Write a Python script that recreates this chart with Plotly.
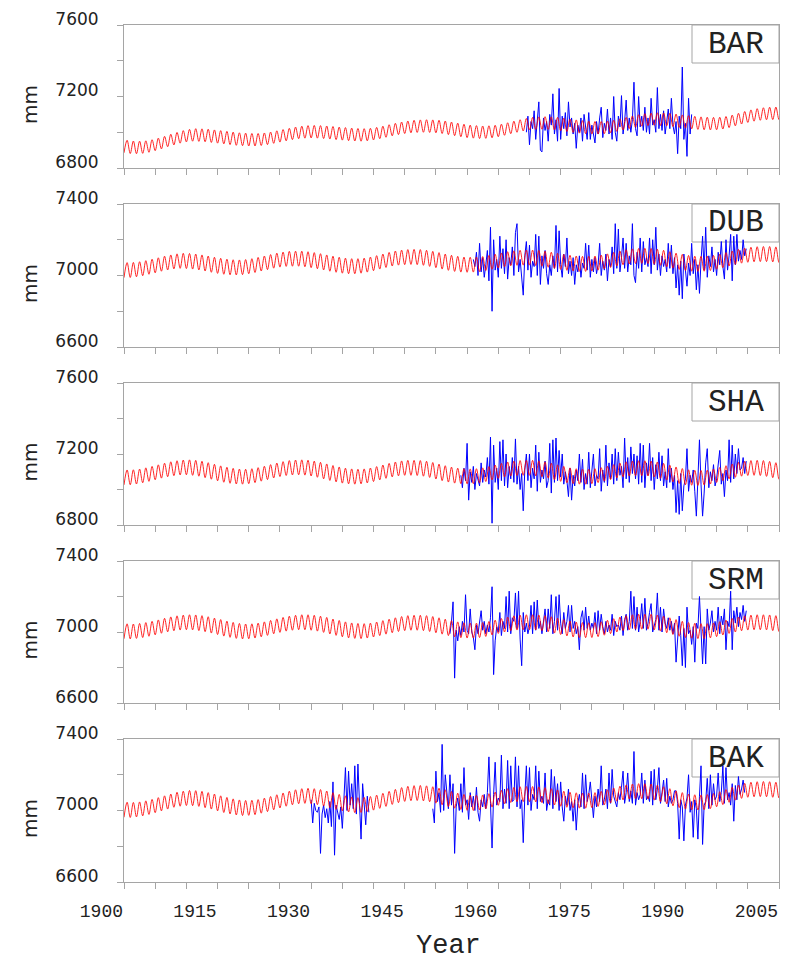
import numpy as np
import plotly.graph_objects as go

# ---------------- data ----------------
stations = ["BAR", "DUB", "SHA", "SRM", "BAK"]
y_ranges = [(6800, 7600), (6600, 7400), (6800, 7600), (6600, 7400), (6600, 7400)]
y_labels = [[6800, 7200, 7600], [6600, 7000, 7400], [6800, 7200, 7600],
            [6600, 7000, 7400], [6600, 7000, 7400]]
x_ticks = [1900, 1915, 1930, 1945, 1960, 1975, 1990, 2005]

# red model curve: slow mean level per year (1900..2006) and annual half-range (mm)
red_first_year = 1900
red_half_range = [35, 42, 42, 42, 42]

bar_red_mid = [6920, 6916, 6915, 6917, 6923, 6932, 6942, 6954, 6964, 6974,
               6981, 6985, 6984, 6982, 6978, 6974, 6970, 6966, 6962, 6960,
               6958, 6958, 6961, 6966, 6973, 6980, 6987, 6994, 6999, 7002,
               7003, 7002, 7000, 6997, 6994, 6991, 6988, 6986, 6985, 6987,
               6992, 6999, 7007, 7015, 7022, 7028, 7032, 7034, 7035, 7034,
               7032, 7028, 7022, 7016, 7010, 7005, 7002, 7000, 7001, 7004,
               7010, 7018, 7027, 7035, 7042, 7048, 7051, 7052, 7051, 7048,
               7044, 7039, 7034, 7030, 7027, 7025, 7025, 7027, 7032, 7040,
               7048, 7056, 7063, 7069, 7072, 7074, 7073, 7071, 7067, 7062,
               7058, 7054, 7051, 7049, 7048, 7049, 7053, 7061, 7071, 7081,
               7090, 7097, 7102, 7105, 7106, 7106, 7105]
dub_red_mid = [7030, 7031, 7035, 7041, 7049, 7057, 7066, 7073, 7079, 7082,
               7081, 7078, 7073, 7067, 7060, 7054, 7049, 7046, 7045, 7047,
               7052, 7059, 7067, 7075, 7083, 7089, 7093, 7094, 7094, 7091,
               7086, 7080, 7073, 7066, 7060, 7055, 7052, 7052, 7055, 7061,
               7069, 7078, 7087, 7095, 7100, 7103, 7104, 7103, 7099, 7093,
               7086, 7078, 7071, 7065, 7061, 7060, 7061, 7064, 7070, 7077,
               7084, 7091, 7096, 7099, 7100, 7100, 7098, 7094, 7088, 7082,
               7076, 7071, 7067, 7065, 7065, 7067, 7072, 7079, 7087, 7095,
               7102, 7107, 7109, 7110, 7109, 7105, 7099, 7091, 7083, 7076,
               7070, 7066, 7065, 7066, 7070, 7077, 7086, 7095, 7104, 7111,
               7116, 7119, 7120, 7120, 7118, 7115, 7111]
sha_red_mid = [7068, 7069, 7073, 7080, 7088, 7097, 7106, 7114, 7120, 7124,
               7125, 7122, 7117, 7109, 7100, 7091, 7083, 7077, 7073, 7072,
               7075, 7081, 7089, 7098, 7107, 7115, 7121, 7124, 7125, 7123,
               7118, 7111, 7102, 7093, 7085, 7078, 7074, 7072, 7074, 7079,
               7087, 7096, 7105, 7113, 7119, 7122, 7122, 7121, 7117, 7110,
               7101, 7092, 7084, 7078, 7075, 7074, 7075, 7080, 7087, 7096,
               7105, 7113, 7118, 7121, 7122, 7122, 7119, 7114, 7106, 7097,
               7088, 7080, 7075, 7072, 7072, 7075, 7081, 7089, 7098, 7107,
               7114, 7118, 7120, 7120, 7118, 7113, 7105, 7095, 7085, 7076,
               7069, 7066, 7065, 7067, 7073, 7082, 7092, 7102, 7111, 7117,
               7121, 7122, 7121, 7116, 7109, 7100, 7091]
srm_red_mid = [7004, 7003, 7006, 7011, 7018, 7026, 7035, 7043, 7049, 7053,
               7055, 7054, 7050, 7044, 7036, 7028, 7019, 7012, 7006, 7003,
               7004, 7008, 7015, 7023, 7032, 7040, 7047, 7052, 7055, 7055,
               7052, 7047, 7040, 7031, 7023, 7015, 7009, 7006, 7005, 7008,
               7014, 7022, 7030, 7038, 7045, 7050, 7052, 7052, 7050, 7045,
               7038, 7030, 7022, 7015, 7010, 7008, 7008, 7011, 7017, 7025,
               7034, 7042, 7049, 7053, 7055, 7055, 7054, 7050, 7044, 7036,
               7028, 7020, 7014, 7011, 7010, 7011, 7016, 7024, 7033, 7042,
               7050, 7055, 7058, 7058, 7058, 7054, 7047, 7038, 7028, 7018,
               7011, 7007, 7005, 7005, 7009, 7016, 7025, 7034, 7042, 7049,
               7053, 7055, 7055, 7054, 7050, 7045, 7040]
bak_red_mid = [7004, 7003, 7006, 7012, 7020, 7030, 7040, 7050, 7060, 7066,
               7070, 7069, 7065, 7058, 7050, 7040, 7031, 7023, 7017, 7014,
               7015, 7019, 7027, 7036, 7046, 7056, 7066, 7074, 7080, 7082,
               7080, 7075, 7067, 7058, 7048, 7040, 7034, 7030, 7031, 7036,
               7044, 7054, 7065, 7076, 7086, 7093, 7097, 7098, 7096, 7091,
               7083, 7074, 7064, 7055, 7048, 7043, 7042, 7045, 7052, 7061,
               7071, 7080, 7087, 7091, 7092, 7092, 7090, 7086, 7080, 7073,
               7066, 7060, 7057, 7055, 7055, 7058, 7065, 7074, 7084, 7094,
               7101, 7106, 7108, 7108, 7106, 7100, 7091, 7080, 7068, 7058,
               7050, 7046, 7045, 7047, 7053, 7063, 7075, 7088, 7100, 7110,
               7116, 7119, 7120, 7119, 7116, 7112, 7107]

# blue observed series: quarterly readings (start year, values)
bar_obs_start = 1964.5
bar_obs = [7000, 7090, 6930, 7060, 7020, 7120, 6960, 7050,
           7170, 6900, 6890, 7080, 7010, 7060, 6950, 7100,
           7040, 7215, 6990, 7070, 6950, 7245, 6960, 7090,
           7020, 7110, 6980, 7170, 7030, 7080, 6990, 7050,
           6910, 7040, 7000, 7080, 6950, 7100, 7020, 6960,
           7110, 6960, 7040, 6990, 6940, 7060, 6990, 7080,
           7140, 6970, 7050, 7010, 7130, 6990, 7080, 6960,
           7200, 7000, 6950, 7090, 7030, 7205, 6990, 7060,
           7180, 7010, 7080, 7000, 7070, 7280, 7020, 6980,
           7200, 7030, 7090, 7010, 7140, 7000, 7080, 6990,
           7190, 7040, 7070, 7000, 7250, 7020, 7100, 7010,
           7120, 6990, 7060, 7130, 7020, 7190, 7040, 6990,
           7060, 6880, 7090, 7020, 7365, 6960, 7050, 6865,
           7190, 6990, 7100]
dub_obs_start = 1956.0
dub_obs = [7090, 7050, 7130, 7000, 7180, 7020, 7100, 6990,
           7060, 7140, 6970, 7270, 6800, 7200, 7030, 7090,
           6990, 7220, 7040, 7150, 7010, 7200, 6980, 7100,
           7060, 7160, 7000, 7240, 7290, 7020, 7090, 6990,
           6890, 7110, 7190, 7030, 7170, 6990, 7080, 7050,
           7230, 7000, 7220, 6950, 7110, 7040, 7140, 7010,
           6950, 7060, 7000, 7110, 7040, 7280, 7020, 7250,
           7060, 6990, 7120, 7050, 7210, 7010, 7080, 7000,
           7100, 6950, 7060, 7020, 7110, 6990, 7070, 7040,
           7180, 7030, 7170, 6990, 7090, 7020, 7100, 7010,
           7060, 7180, 7000, 7080, 7030, 7120, 6970, 7090,
           7050, 7160, 7010, 7290, 7040, 7260, 7020, 7100,
           7210, 7040, 7180, 7020, 7110, 7060, 7290, 7000,
           6960, 7130, 7040, 7210, 7020, 7190, 7060, 7100,
           7050, 7210, 7010, 7200, 7060, 7270, 7030, 7120,
           7000, 7110, 7050, 7090, 7020, 7180, 7040, 7170,
           7010, 7100, 6930, 7060, 6890, 7080, 6870, 7120,
           7040, 6940, 7070, 7000, 7180, 7010, 7090, 6920,
           7060, 6900, 7080, 7220, 7030, 7270, 6990, 7110,
           7050, 7160, 7020, 7090, 7000, 7130, 7060, 7190,
           7050, 6980, 7200, 7030, 7110, 7230, 6970, 7220,
           7060, 7230, 7080, 7140, 7090, 7200, 7110, 7150]
sha_obs_start = 1954.0
sha_obs = [7080, 7010, 7120, 7050, 7260, 6940, 7100, 7040,
           7130, 7000, 7090, 7060, 7020, 7150, 7040, 7110,
           7070, 7180, 7030, 7295, 6810, 7250, 7040, 7120,
           7000, 7270, 7050, 7280, 7020, 7200, 7010, 7130,
           7060, 7180, 7040, 7285, 7030, 7130, 7000, 7090,
           6880, 7110, 7200, 7050, 7200, 7010, 7120, 7060,
           7250, 6990, 7210, 7040, 7110, 7060, 7160, 7010,
           7050, 7260, 6980, 7280, 7040, 7290, 7050, 7220,
           7070, 7200, 7030, 7100, 7050, 6960, 7120, 6940,
           7080, 7020, 7110, 7050, 7200, 7040, 7170, 7000,
           7090, 7030, 7210, 7010, 7100, 7200, 7020, 7080,
           7060, 7230, 6990, 7110, 7040, 7250, 7020, 7150,
           7060, 7200, 7030, 7230, 7050, 7210, 7080, 7130,
           7010, 7290, 7060, 7180, 7040, 7240, 7090, 7200,
           7060, 7190, 7030, 7260, 7040, 7250, 7010, 7150,
           7080, 7260, 7050, 7180, 7000, 7140, 7060, 7210,
           7050, 7190, 7020, 7100, 7010, 7230, 7040, 7120,
           7000, 7080, 6870, 7050, 6860, 7090, 6880, 7020,
           7060, 7230, 6990, 7080, 7040, 7110, 6990, 6850,
           7060, 7280, 7030, 6850, 6980, 7150, 7230, 7010,
           7100, 7050, 7140, 7020, 7060, 7130, 7220, 7030,
           7090, 6960, 7110, 7050, 7280, 7040, 7250, 7060,
           7200, 7090, 7230, 7110, 7120, 7180, 7090, 7160]
srm_obs_start = 1952.25
srm_obs = [6990, 7060, 7170,
           6740, 7010, 6950, 7030, 6980, 7060, 7000, 7210,
           7010, 6990, 7130, 7000, 6970, 6900, 7040, 6990,
           7050, 7120, 7010, 7060, 6990, 7040, 7000, 7080,
           7255, 6760, 6950, 7030, 7000, 7110, 6980, 7060,
           7020, 7200, 7000, 7230, 6990, 7080, 7060, 7220,
           7020, 7230, 6960, 6810, 7110, 7000, 7050, 6990,
           7030, 7150, 6990, 7170, 7010, 7180, 7020, 7060,
           6990, 7080, 7130, 7000, 7130, 7020, 7210, 6990,
           7060, 7200, 7010, 7210, 7050, 6990, 7110, 7020,
           7060, 7150, 7000, 7150, 7020, 7060, 6990, 7030,
           6900, 7080, 7120, 7010, 7140, 7020, 7090, 7010,
           7050, 7020, 7110, 6990, 7120, 7010, 7100, 7030,
           6990, 7060, 7000, 7040, 7010, 7100, 6980, 7060,
           7030, 7040, 7010, 7090, 6980, 7070, 7100, 7010,
           7060, 7230, 7020, 7200, 7010, 7140, 7000, 7060,
           7160, 7020, 7190, 7010, 7050, 7110, 7160, 7000,
           7030, 7070, 7220, 7010, 7140, 7000, 7130, 7050,
           7020, 7080, 7010, 7060, 6990, 7050, 6830, 7000,
           7090, 6980, 6810, 7020, 6800, 7140, 6990, 7010,
           6930, 7030, 6830, 7050, 7020, 7200, 6960, 6820,
           7030, 6820, 7130, 7010, 7050, 7120, 7000, 7060,
           7010, 7140, 6990, 7090, 7040, 7130, 6900, 7060,
           7030, 7230, 6900, 7120, 7050, 7140, 7030, 7110,
           7070, 7150, 7060, 7120]
bak_obs1_start = 1930.0
bak_obs1 = [7060, 6930, 7040, 7000, 6990, 7020, 6760, 6980,
            7030, 6960, 7010, 6930, 7050, 6910, 7160, 6750,
            7030, 6990, 6950, 7020, 6900, 7060, 7240, 7000,
            7220, 7030, 7150, 7010, 7250, 6980, 7260, 7040,
            6840, 7150, 7000, 6920, 7080, 6990]
bak_obs2_start = 1949.5
bak_obs2 = [7010, 6930,
            7220, 7050, 7100, 6990, 7370, 7000, 7200, 7080,
            7010, 7200, 7030, 7150, 6760, 7020, 7070, 7000,
            7150, 6990, 7240, 7030, 7060, 6950, 7100, 7020,
            7080, 7000, 7130, 6990, 6940, 7060, 7020, 7090,
            7010, 7100, 7300, 7040, 6790, 7090, 7270, 7030,
            7070, 7050, 7310, 7010, 7120, 7040, 7280, 7010,
            7250, 7050, 7060, 7300, 7020, 7250, 7010, 7060,
            6820, 7080, 7250, 7030, 7240, 7000, 7090, 7060,
            7250, 7010, 7220, 7050, 7080, 7040, 7210, 7000,
            7060, 7030, 7230, 7010, 7190, 7050, 7150, 7000,
            7160, 7020, 6940, 7080, 7030, 7120, 7000, 7050,
            6940, 7060, 6890, 7040, 7090, 7020, 7210, 7010,
            7200, 7050, 7090, 7160, 7030, 6960, 7080, 7020,
            7120, 7050, 7250, 7030, 7060, 7120, 7010, 7210,
            7040, 7230, 7080, 7050, 7020, 7100, 7060, 7130,
            7220, 7040, 7100, 7210, 7050, 7110, 7040, 7330,
            7030, 7100, 7060, 7090, 7210, 7040, 7170, 7060,
            7080, 7050, 7220, 7030, 7230, 7060, 7120, 7240,
            7040, 7100, 7170, 7050, 7180, 7020, 7080, 7040,
            7060, 7110, 7110, 7040, 6840, 7060, 7020, 6830,
            7030, 7070, 7200, 6990, 7050, 6850, 7060, 7010,
            6840, 7080, 7250, 6810, 7030, 7050, 7180, 7010,
            7200, 7030, 7150, 7060, 7080, 7210, 7050, 7100,
            7250, 7040, 7240, 7060, 7100, 7030, 7150, 6940,
            7140, 7060, 7190, 7090, 7120, 7170, 7100]

red_mids = [bar_red_mid, dub_red_mid, sha_red_mid, srm_red_mid, bak_red_mid]
obs_segments = [
    [(bar_obs_start, bar_obs)],
    [(dub_obs_start, dub_obs)],
    [(sha_obs_start, sha_obs)],
    [(srm_obs_start, srm_obs)],
    [(bak_obs1_start, bak_obs1), (bak_obs2_start, bak_obs2)],
]

# ---------------- figure ----------------
GRAY = "rgb(165,165,165)"
TXT = "#222222"
W, H = 793, 965
ML, MR, MT, MB = 124, 14, 25, 83
panel_px = [(25, 168), (204, 347), (383, 525), (561, 703), (739, 882)]
plot_h = H - MT - MB
plot_w = W - ML - MR

fig = go.Figure()

for k in range(5):
    sfx = "" if k == 0 else str(k + 1)
    # observed (blue)
    xs, ys = [], []
    for start, vals in obs_segments[k]:
        t = start + 0.25 * np.arange(len(vals))
        xs += list(t) + [None]
        ys += list(vals) + [None]
    fig.add_trace(go.Scatter(x=xs, y=ys, mode="lines",
                             line=dict(color="rgb(0,0,255)", width=1),
                             xaxis="x" + sfx, yaxis="y" + sfx,
                             showlegend=False, hoverinfo="skip"))
    # model (red): annual low / high around slow level
    mids = red_mids[k]
    amp = red_half_range[k]
    rx, ry = [], []
    for i, m in enumerate(mids):
        yr = red_first_year + i
        rx += [yr, yr + 0.5]
        ry += [m - amp, m + amp]
    fig.add_trace(go.Scatter(x=rx, y=ry, mode="lines",
                             line=dict(color="rgba(255,0,0,0.85)", width=1,
                                       shape="spline", smoothing=1),
                             xaxis="x" + sfx, yaxis="y" + sfx,
                             showlegend=False, hoverinfo="skip"))

layout = dict(
    width=W, height=H,
    margin=dict(l=ML, r=MR, t=MT, b=MB, pad=0, autoexpand=False),
    paper_bgcolor="white", plot_bgcolor="white",
    showlegend=False,
)

annotations = []
shapes = []
for k in range(5):
    sfx = "" if k == 0 else str(k + 1)
    top_px, bot_px = panel_px[k]
    d0 = (H - MB - bot_px) / plot_h
    d1 = (H - MB - top_px) / plot_h
    layout["xaxis" + sfx] = dict(
        domain=[0, 1], anchor="y" + sfx, range=[1900, 2005],
        automargin=False,
        tickmode="array", tickvals=x_ticks, ticktext=[str(v) for v in x_ticks],
        ticks="outside", ticklen=6, tickcolor=GRAY, tickwidth=1,
        minor=dict(tickmode="linear", tick0=1900, dtick=5, ticks="outside",
                   ticklen=6, tickcolor=GRAY, tickwidth=1, showgrid=False),
        showline=True, linecolor=GRAY, linewidth=1, mirror=True,
        showgrid=False, zeroline=False,
        showticklabels=(k == 4),
        ticklabelposition="outside left",
        ticklabelstandoff=12,
        tickfont=dict(family="Liberation Mono", size=18, color=TXT),
    )
    lo, hi = y_ranges[k]
    layout["yaxis" + sfx] = dict(
        domain=[d0, d1], anchor="x" + sfx, range=[lo, hi],
        automargin=False,
        tickmode="array", tickvals=y_labels[k],
        ticktext=[str(v) for v in y_labels[k]],
        ticks="outside", ticklen=6, tickcolor=GRAY, tickwidth=1,
        minor=dict(tickmode="linear", tick0=lo, dtick=200, ticks="outside",
                   ticklen=6, tickcolor=GRAY, tickwidth=1, showgrid=False),
        showline=True, linecolor=GRAY, linewidth=1, mirror=True,
        showgrid=False, zeroline=False,
        ticklabelposition="outside",
        ticklabelshift=-6,
        ticklabelstandoff=15,
        tickfont=dict(family="DejaVu Sans", size=17, color=TXT),
    )
    xr = "x" + sfx + " domain"
    yr = "y" + sfx + " domain"
    box_h = 38 / (bot_px - top_px)
    box_l = (692 - ML) / plot_w
    shapes.append(dict(type="rect", xref=xr, yref=yr, x0=box_l, x1=1,
                       y0=1 - box_h, y1=1, line=dict(color=GRAY, width=1),
                       fillcolor="rgba(0,0,0,0)", layer="below"))
    annotations.append(dict(xref=xr, yref=yr, x=(box_l + 1) / 2,
                            y=1 - box_h / 2, text=stations[k], showarrow=False,
                            xanchor="center", yanchor="middle",
                            font=dict(family="Liberation Mono", size=31,
                                      color=TXT)))
    annotations.append(dict(xref="paper", yref=yr, x=(30 - ML) / plot_w,
                            y=0.44, text="mm", showarrow=False, textangle=-90,
                            xanchor="center", yanchor="middle",
                            font=dict(family="DejaVu Sans", size=20,
                                      color=TXT)))

annotations.append(dict(xref="paper", yref="paper",
                        x=(448 - ML) / plot_w,
                        y=(H - MB - 946) / plot_h, text="Year",
                        showarrow=False, xanchor="center", yanchor="middle",
                        font=dict(family="Liberation Mono", size=27,
                                  color=TXT)))

layout["annotations"] = annotations
layout["shapes"] = shapes
fig.update_layout(**layout)
fig.write_html("out.html")
